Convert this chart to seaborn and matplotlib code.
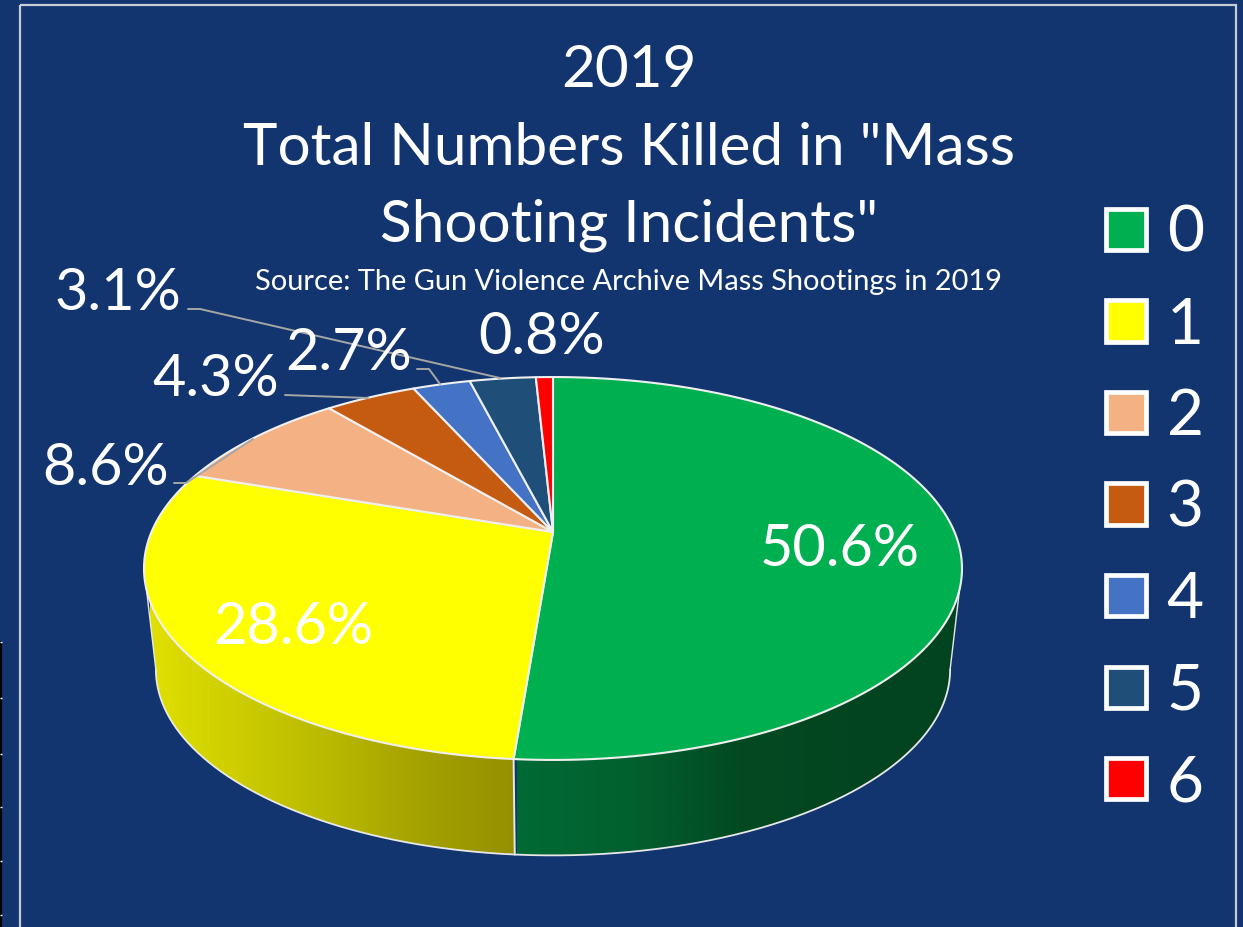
import numpy as np
import matplotlib
matplotlib.use('Agg')
import matplotlib.pyplot as plt
from matplotlib.colors import LinearSegmentedColormap
from matplotlib.patches import Patch, Polygon, Rectangle
import seaborn as sns

# data (labels do not add up to 100, the pie is normalised)
categories = ['0', '1', '2', '3', '4', '5', '6']
percents = [50.6, 28.6, 8.6, 4.3, 2.7, 3.1, 0.8]
slice_colors = ['#00B050', '#FFFF00', '#F4B183', '#C55A11', '#4472C4', '#1F4E79', '#FF0000']

title_lines = ['2019', 'Total Numbers Killed in "Mass', 'Shooting Incidents"']
source_text = 'Source: The Gun Violence Archive Mass Shootings in 2019'

BG = '#12356F'
sns.set_theme(style='white')
plt.rcParams['font.family'] = ['Lato', 'DejaVu Sans']
palette = sns.color_palette(slice_colors)

fig = plt.figure(figsize=(12.43, 9.27), dpi=100, facecolor=BG)
ax = fig.add_axes([0, 0, 1, 1])
ax.set_xlim(0, 1243)
ax.set_ylim(927, 0)
ax.axis('off')

# outer frame and the sliver of ruler at the left edge
ax.add_patch(Rectangle((20, 5), 1216, 940, fill=False, ec='#C8CCD6', lw=1.6))
ax.plot([0.8, 0.8], [642, 927], color='black', lw=1.6)
ax.hlines([642, 698, 754, 807, 861, 915], 0, 2, color='white', lw=1)

# perspective mapping of the pie circle, apex is not at the ellipse centre
CX, APEX_Y, PERSP, TILT, RAD = 553, 532, 0.1906, 83.1, 401.5
BOT_SCALE, BOT_DY = 0.971, 101


def rim(theta, scale=1.0, dy=0.0):
    u, v = np.sin(theta), np.cos(theta)
    den = 1 + PERSP * v
    x = CX + scale * RAD * u / den
    y0 = (APEX_Y - TILT * v) / den
    return x, 568.5 + scale * (y0 - 568.5) + dy


share = np.array(percents) / np.sum(percents)
edges = np.concatenate([[0], np.cumsum(share)]) * 2 * np.pi

# side wall, only the two big slices face the viewer
left_t = 2 * np.pi - np.arccos(-PERSP)
right_t = np.arccos(-PERSP)
side_specs = [
    (right_t, edges[1], ['#006A35', '#02602F', '#024A22', '#034520', '#034420'], 517, 960),
    (edges[1], left_t, ['#E0E000', '#CCCC00', '#B8B800', '#A3A000', '#949000'], 150, 517),
]
for t0, t1, ramp, x0, x1 in side_specs:
    ts = np.linspace(t0, t1, 200)
    tx, ty = rim(ts)
    bx, by = rim(ts, BOT_SCALE, BOT_DY)
    poly = Polygon(np.r_[np.c_[tx, ty], np.c_[bx, by][::-1]], closed=True, fc='none', ec='none')
    ax.add_patch(poly)
    cmap = LinearSegmentedColormap.from_list('side', ramp)
    im = ax.imshow(np.linspace(0, 1, 256)[None, :], cmap=cmap, aspect='auto',
                   extent=(x0, x1, 927, 0), zorder=2)
    im.set_clip_path(poly)
    ax.plot(bx, by, color='#E8E8E8', lw=1.3, zorder=3)
    end = -1 if t1 == left_t else 0
    ax.plot([tx[end], bx[end]], [ty[end], by[end]], color='#E8E8E8', lw=1.0, zorder=3)
# divider on the wall between the two slices
dx0, dy0 = rim(edges[1])
dx1, dy1 = rim(edges[1], BOT_SCALE, BOT_DY)
ax.plot([dx0, dx1], [dy0, dy1], color='#E8E8E8', lw=1.4, zorder=3)
ax.set_xlim(0, 1243)
ax.set_ylim(927, 0)

# top face
for i, color in enumerate(palette):
    ts = np.linspace(edges[i], edges[i + 1], 200)
    x, y = rim(ts)
    pts = np.r_[[[CX, APEX_Y]], np.c_[x, y]]
    ax.add_patch(Polygon(pts, closed=True, fc=color, ec='#EFEFEF', lw=1.5, zorder=4, joinstyle='round'))

# leader lines
leaders = [
    ([174, 186, 253], [483, 483, 439]),
    ([285, 368], [395, 398]),
    ([417, 429, 440], [369, 369, 384]),
    ([188, 200, 500], [309, 309, 378]),
]
for lx, ly in leaders:
    ax.plot(lx, ly, color='#A6A6A6', lw=1.4, zorder=5)

# data labels
label_pos = [(840, 550), (293, 628), (106, 468), (216, 379), (349, 353), (118, 294), (542, 338)]
for p, (lx, ly) in zip(percents, label_pos):
    ax.text(lx, ly, f'{p:.1f}%', color='white', fontsize=41.5, ha='center', va='center', zorder=6)

# titles
for line, ty in zip(title_lines, [70, 148, 225]):
    ax.text(629, ty, line, color='white', fontsize=42, ha='center', va='center')
ax.text(629, 282, source_text, color='white', fontsize=20.9, ha='center', va='center')

# legend
handles = [Patch(facecolor=c, edgecolor='white', linewidth=3.4, label=n) for c, n in zip(palette, categories)]
ax.legend(handles=handles, loc='upper left', bbox_to_anchor=(1106 / 1243, 1 - 205 / 927), frameon=False,
          fontsize=46, labelcolor='white', handlelength=0.62, handleheight=0.62, handletextpad=0.33,
          labelspacing=0.525, borderpad=0, borderaxespad=0)

fig.savefig('out.png', dpi=100, facecolor=BG)
